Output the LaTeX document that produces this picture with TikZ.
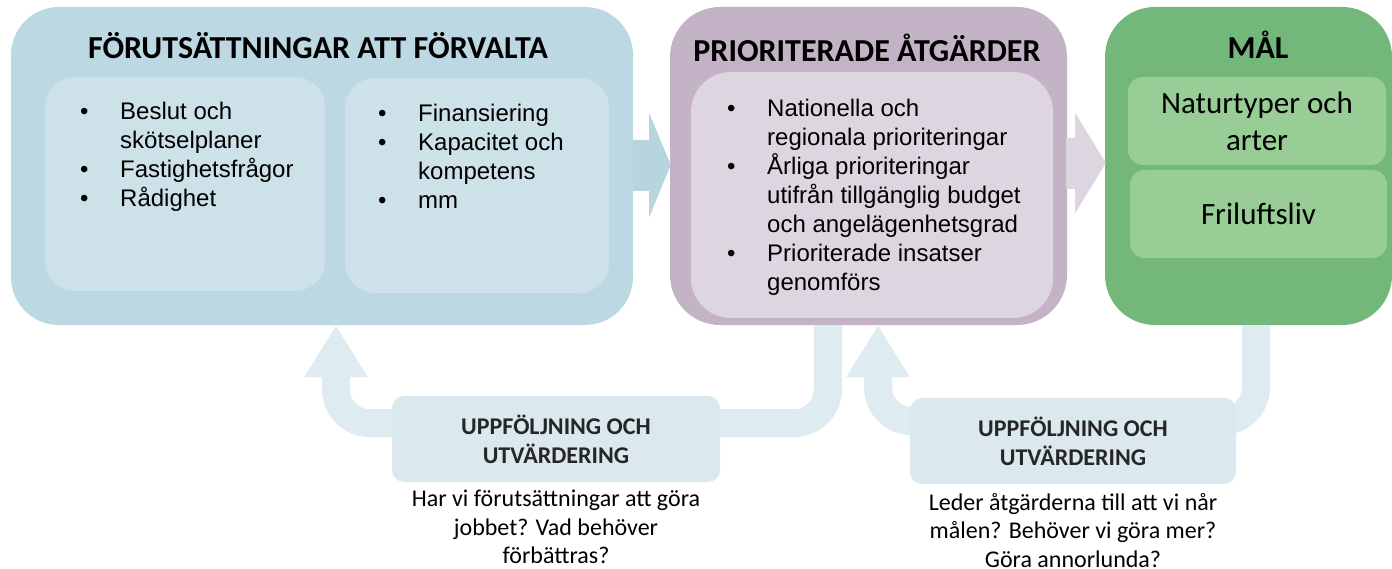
\documentclass[tikz,border=0pt]{standalone}
\usepackage{fontspec}
\setmainfont{Carlito}
\newfontfamily\arialfont{Liberation Sans}
\usetikzlibrary{arrows.meta, positioning, calc}

\definecolor{preout}{RGB}{187,216,227}
\definecolor{prein}{RGB}{205,225,232}
\definecolor{preflow}{RGB}{183,213,223}
\definecolor{prioout}{RGB}{196,178,198}
\definecolor{prioin}{RGB}{221,213,223}
\definecolor{malout}{RGB}{115,184,122}
\definecolor{malin}{RGB}{153,205,150}
\definecolor{loopband}{RGB}{222,235,241}
\definecolor{loopbox}{RGB}{219,232,238}
\definecolor{txtdark}{RGB}{38,38,38}

\newcommand{\blt}{\makebox[40pt][l]{\textbullet}}
\newcommand{\cnt}{\hspace*{40pt}}

\begin{document}
\begin{tikzpicture}[x=1pt, y=-1pt,
  bigbox/.style={rounded corners=48pt, inner sep=0pt},
  subbox/.style={rounded corners=30pt, inner sep=0pt},
  head/.style={font=\fontsize{32}{36}\selectfont\bfseries, inner sep=0pt, anchor=base},
  bullets/.style={font=\arialfont\fontsize{24}{29}\selectfont, align=left, inner sep=0pt, anchor=north west},
  goal/.style={font=\fontsize{31}{37}\selectfont, align=center},
  loopline/.style={line width=28pt, loopband, rounded corners=34pt, -{Triangle[length=52pt, width=60pt]}},
  loopnode/.style={fill=loopbox, rounded corners=12pt, minimum height=86pt, inner sep=0pt, align=center,
    font=\fontsize{24}{29}\selectfont\bfseries, text=txtdark},
  question/.style={font=\fontsize{24}{28.5}\selectfont, align=center, inner sep=0pt}
]
  \useasboundingbox (0,0) rectangle (1392,569);

  % Förutsättningar
  \node[bigbox, fill=preout, minimum width=622pt, minimum height=318pt] (pre) at (322,166) {};
  \node[head] (prehead) at (318,59) {FÖRUTSÄTTNINGAR ATT FÖRVALTA};
  \node[subbox, fill=prein, minimum width=280pt, minimum height=214pt] (preA) at (185,184) {};
  \node[subbox, fill=prein, minimum width=264pt, minimum height=215pt] (preB) at (477,185.5) {};
  \node[bullets] (listA) at (80,102) {\blt Beslut och\\\cnt skötselplaner\\\blt Fastighetsfrågor\\\blt Rådighet};
  \node[bullets] (listB) at (378,104) {\blt Finansiering\\\blt Kapacitet och\\\cnt kompetens\\\blt mm};

  % Prioriterade åtgärder
  \node[bigbox, rounded corners=50pt, fill=prioout, minimum width=397pt, minimum height=318pt] (prio) at (868.5,166) {};
  \node[head] (priohead) at (867,62) {PRIORITERADE ÅTGÄRDER};
  \node[subbox, rounded corners=40pt, fill=prioin, minimum width=362pt, minimum height=246pt] (prioA) at (872,195) {};
  \node[bullets] (listC) at (727,99) {\blt Nationella och\\\cnt regionala prioriteringar\\\blt Årliga prioriteringar\\\cnt utifrån tillgänglig budget\\\cnt och angelägenhetsgrad\\\blt Prioriterade insatser\\\cnt genomförs};

  % Mål
  \node[bigbox, rounded corners=50pt, fill=malout, minimum width=287pt, minimum height=318pt] (mal) at (1248.5,166) {};
  \node[head] (malhead) at (1258,59) {MÅL};
  \node[subbox, goal, rounded corners=15pt, fill=malin, minimum width=258pt, minimum height=88pt] (natur) at (1257,121) {Naturtyper och\\arter};
  \node[subbox, goal, rounded corners=15pt, fill=malin, minimum width=257pt, minimum height=88pt] (frilu) at (1258.5,214) {Friluftsliv};

  % block arrows
  \fill[preflow] ($(pre.east)+(0,-26)$) -- ($(pre.east)+(16,-26)$) -- ($(pre.east)+(16,-53)$)
    -- ($(prio.west)+(1,-1)$) -- ($(pre.east)+(16,51)$) -- ($(pre.east)+(16,25)$) -- ($(pre.east)+(0,25)$) -- cycle;
  \fill[prioin] ($(prio.east)+(-1,-28)$) -- ($(prio.east)+(8,-28)$) -- ($(prio.east)+(8,-53)$)
    -- ($(mal.west)+(1,-3)$) -- ($(prio.east)+(8,47)$) -- ($(prio.east)+(8,23)$) -- ($(prio.east)+(-1,23)$) -- cycle;

  % feedback loops
  \draw[loopline] ([xshift=-40.5pt]prio.south) -- ++(0,98) -| ([xshift=14pt]pre.south);
  \draw[loopline] ([xshift=7.5pt]mal.south) -- ++(0,96) -| ([xshift=9.5pt]prio.south);

  \node[loopnode, minimum width=328pt] (chk1) at (556,439) {UPPFÖLJNING OCH\\UTVÄRDERING};
  \node[loopnode, minimum width=326pt] (chk2) at (1073,441) {UPPFÖLJNING OCH\\UTVÄRDERING};
  \node[question, below=8pt of chk1] (q1) {Har vi förutsättningar att göra\\jobbet? Vad behöver\\förbättras?};
  \node[question, below=9pt of chk2] (q2) {Leder åtgärderna till att vi når\\målen? Behöver vi göra mer?\\Göra annorlunda?};
\end{tikzpicture}
\end{document}
